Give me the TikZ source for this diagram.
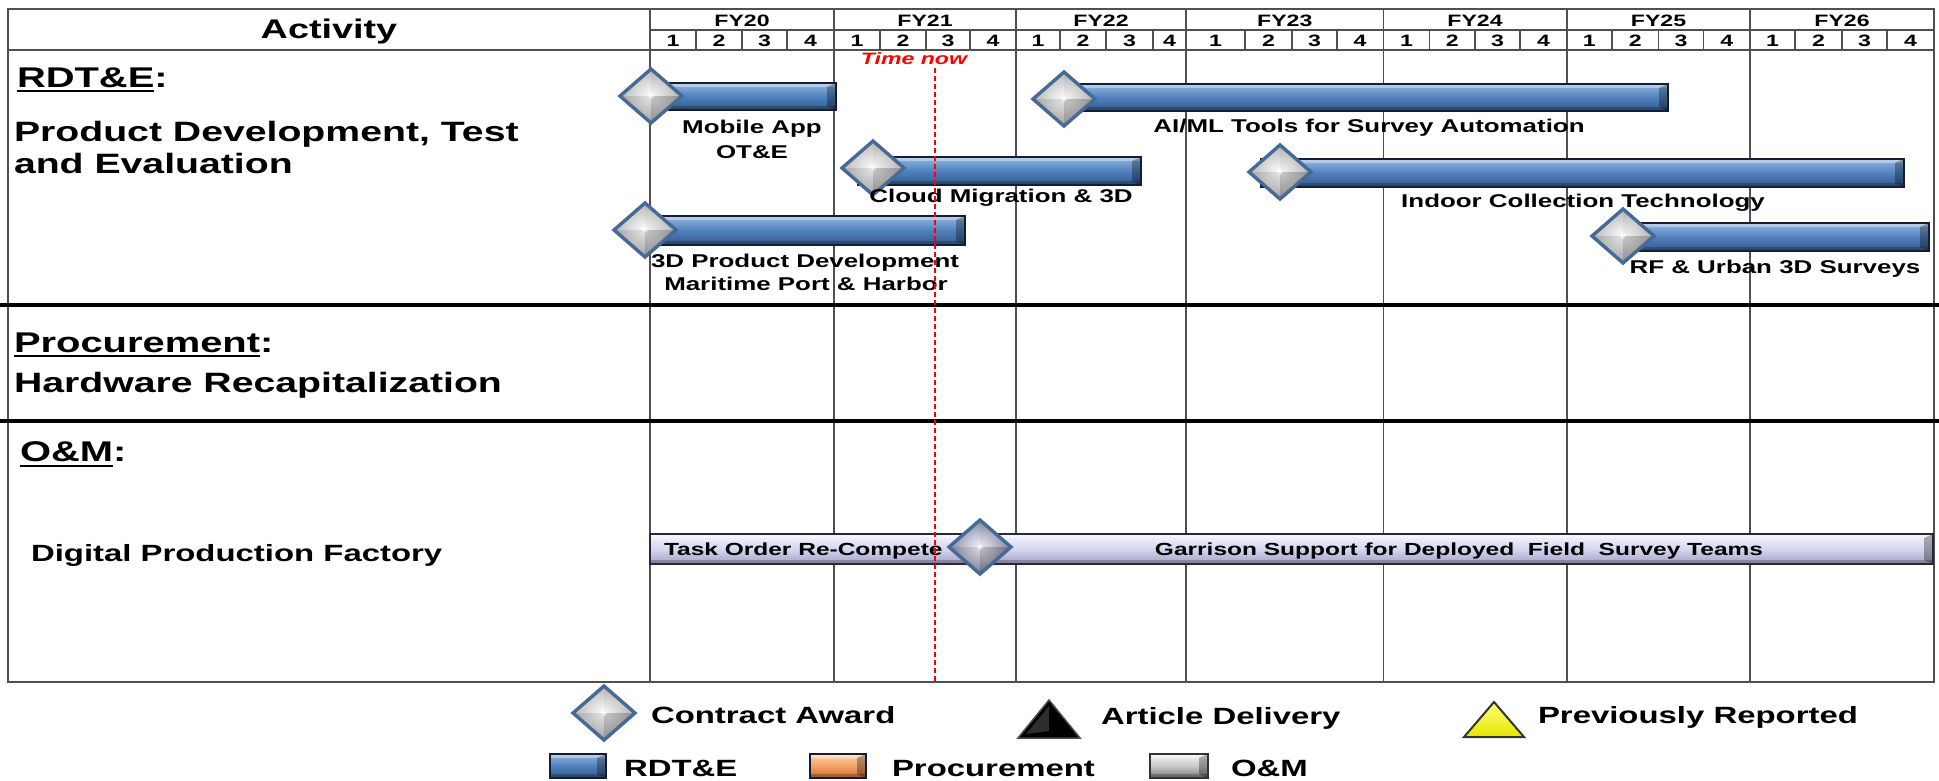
\documentclass[tikz,border=0pt]{standalone}
\usepackage{fontspec}
\setmainfont{Liberation Sans}[FakeStretch=1.4]
\usetikzlibrary{shapes.geometric,calc}
\definecolor{gridc}{RGB}{80,80,80}
\definecolor{barTop}{RGB}{150,182,222}
\definecolor{barMid}{RGB}{79,129,189}
\definecolor{barBot}{RGB}{50,88,138}
\definecolor{barEdge}{RGB}{20,30,50}
\definecolor{gemRim}{RGB}{70,105,150}
\definecolor{omTop}{RGB}{245,245,253}
\definecolor{omMid}{RGB}{214,214,240}
\definecolor{omBot}{RGB}{160,160,195}
\definecolor{omEdge}{RGB}{40,40,55}
\definecolor{orTop}{RGB}{252,214,180}
\definecolor{orMid}{RGB}{245,160,100}
\definecolor{orBot}{RGB}{200,110,50}
\definecolor{grTop}{RGB}{245,245,245}
\definecolor{grMid}{RGB}{200,200,200}
\definecolor{grBot}{RGB}{120,120,120}
\definecolor{nowred}{RGB}{255,0,0}
\definecolor{yelTop}{RGB}{255,255,120}
\definecolor{yelBot}{RGB}{230,230,0}
\begin{document}
\begin{tikzpicture}[x=1pt,y=-1pt,
 every node/.style={inner sep=0pt,outer sep=0pt},
 gridline/.style={draw=gridc,line width=1.6pt},
 sectline/.style={draw=black,line width=3.5pt},
 bevel/.style={path picture={
   \fill[white,opacity=.35] (path picture bounding box.north west) rectangle ([yshift=-4pt]path picture bounding box.north east);
   \fill[black,opacity=.22] (path picture bounding box.south west) rectangle ([yshift=4pt]path picture bounding box.south east);
   \fill[black,opacity=.3] ([xshift=-9pt,yshift=-4pt]path picture bounding box.north east) -- (path picture bounding box.north east) -- (path picture bounding box.south east) -- ([xshift=-9pt,yshift=4pt]path picture bounding box.south east) -- cycle;
 }},
 rdtbar/.style={draw=barEdge,line width=1.8pt,top color=barTop,bottom color=barBot,middle color=barMid,bevel},
 ombar/.style={draw=omEdge,line width=1.8pt,top color=omTop,bottom color=omBot,middle color=omMid,bevel},
 orbox/.style={draw=barEdge,line width=1.8pt,top color=orTop,bottom color=orBot,middle color=orMid,bevel},
 grbox/.style={draw=black!80,line width=1.8pt,top color=grTop,bottom color=grBot,middle color=grMid,bevel},
 gem/.style={diamond,minimum width=62pt,minimum height=54pt,draw=gemRim,line width=3.4pt,
   inner color=white,outer color=black!28,
   path picture={
     \fill[black,opacity=.03] (path picture bounding box.center) -- (path picture bounding box.north) -- (path picture bounding box.east) -- cycle;
     \fill[black,opacity=.22] (path picture bounding box.center) -- (path picture bounding box.east) -- (path picture bounding box.south) -- cycle;
     \fill[black,opacity=.10] (path picture bounding box.center) -- (path picture bounding box.south) -- (path picture bounding box.west) -- cycle;
     \fill[white,opacity=.6] ([xshift=-3pt]path picture bounding box.center) -- ([yshift=3pt]path picture bounding box.center) -- ([xshift=3pt]path picture bounding box.center) -- ([yshift=-3pt]path picture bounding box.center) -- cycle;
   }},
 omgem/.style={gem,inner color=omTop,outer color=omBot!85!black},
 hdr/.style={font=\fontsize{27}{30}\selectfont\bfseries,anchor=base},
 fylbl/.style={font=\fontsize{16.5}{18}\selectfont\bfseries,anchor=base},
 sec/.style={font=\fontsize{28.5}{31}\selectfont\bfseries,anchor=base west},
 sub/.style={font=\fontsize{28}{31}\selectfont\bfseries,anchor=base west},
 lbl/.style={font=\fontsize{18.5}{22}\selectfont\bfseries,anchor=base},
 omlbl/.style={font=\fontsize{17.5}{20}\selectfont\bfseries},
 leg/.style={font=\fontsize{23.5}{26}\selectfont\bfseries,anchor=base west},
 uline/.style={draw=black,line width=2pt},
 nowline/.style={draw=nowred,line width=1.4pt,dash pattern=on 5pt off 3pt}
]
\useasboundingbox[fill=white] (0,0) rectangle (1939,780);

% ---------- grid ----------
\draw[gridline] (8,9) rectangle (1934,682);
\draw[gridline] (8,50) -- (1934,50);
\draw[gridline] (650,30) -- (1934,30);
\foreach \x in {650,834,1016,1186,1383.5,1567,1750}
  \draw[gridline] (\x,9) -- (\x,682);
\foreach \x in {696,742,787,880,926,970,1060,1106,1153,1245,1292,1337,1429.6,1475.2,1520,1611.7,1658.6,1703.4,1795,1842,1887}
  \draw[gridline] (\x,30) -- (\x,50);
\draw[sectline] (0,305) -- (1939,305);
\draw[sectline] (0,421) -- (1939,421);

% ---------- header ----------
\node[hdr] (act) at (329,38) {Activity};
\foreach \x/\t [count=\i] in {742/FY20,925/FY21,1101/FY22,1284.75/FY23,1475/FY24,1658.5/FY25,1842/FY26}
  \node[fylbl] (fy\i) at (\x,26) {\t};
\foreach \x/\q [count=\i] in {673/1,719/2,764.5/3,810.5/4,857/1,903/2,948/3,993/4,1038/1,1083/2,1129.5/3,1169.5/4,1215.5/1,1268.5/2,1314.5/3,1360/4,1406.5/1,1452.4/2,1497.6/3,1543.5/4,1589.3/1,1635.2/2,1681/3,1726.7/4,1772.5/1,1818.5/2,1864.5/3,1910.5/4}
  \node[fylbl] (q\i) at (\x,46.5) {\q};

% ---------- left column ----------
\node[sec] (rdteH) at (17,87) {RDT\&E};
\node[sec] (rdteC) at (rdteH.base east) {:};
\draw[uline] ([yshift=-4pt]rdteH.base west) -- ([yshift=-4pt]rdteH.base east);
\node[sub] (pd1) at (14,141.5) {Product Development, Test};
\node[sub] (pd2) at (14,173) {and Evaluation};
\node[sec] (procH) at (14,352) {Procurement};
\node[sec] (procC) at (procH.base east) {:};
\draw[uline] ([yshift=-4pt]procH.base west) -- ([yshift=-4pt]procH.base east);
\node[sub] (hw) at (14,392.5) {Hardware Recapitalization};
\node[sec] (omH) at (20,461.5) {O\&M};
\node[sec] (omC) at (omH.base east) {:};
\draw[uline] ([yshift=-4pt]omH.base west) -- ([yshift=-4pt]omH.base east);
\node[font=\fontsize{23.5}{26}\selectfont\bfseries,anchor=base west] (dpf) at (31,561) {Digital Production Factory};

% ---------- RDT&E bars ----------
\path[rdtbar] (652,83) rectangle (836,110);
\path[rdtbar] (1064,84) rectangle (1668,111);
\path[rdtbar] (858,157) rectangle (1141,185);
\path[rdtbar] (1261,159) rectangle (1904,187);
\path[rdtbar] (645,216) rectangle (965,245);
\path[rdtbar] (1623,223) rectangle (1929,251);
\node[gem] (g1) at (651,96) {};
\node[gem] (g2) at (1064,99) {};
\node[gem] (g3) at (873,168) {};
\node[gem] (g4) at (1280,172) {};
\node[gem] (g5) at (645,230) {};
\node[gem] (g6) at (1623,236) {};

\node[lbl] (l1a) at (752,133) {Mobile App};
\node[lbl] (l1b) at (752,158) {OT\&E};
\node[lbl] (l2) at (1369,132) {AI/ML Tools for Survey Automation};
\node[lbl] (l3) at (1001,202) {Cloud Migration \& 3D};
\node[lbl] (l4) at (1583,207) {Indoor Collection Technology};
\node[lbl] (l5a) at (805,267) {3D Product Development};
\node[lbl] (l5b) at (806,290) {Maritime Port \& Harbor};
\node[lbl] (l6) at (1775,273) {RF \& Urban 3D Surveys};

% ---------- O&M bar ----------
\path[ombar] (650,534) rectangle (1933,564);
\node[omgem] (g7) at (980,547) {};
\node[omlbl,anchor=base west] (om1) at (664,555) {Task Order Re-Compete};
\node[omlbl,anchor=base] (om2) at (1459,555) {Garrison Support for Deployed~~Field~~Survey Teams};

% ---------- time now ----------
\node[font=\fontsize{16.5}{18}\selectfont\bfseries\itshape,text=nowred,anchor=base] (now) at (914,64) {Time now};
\coordinate (nowtop) at (935,68);
\coordinate (nowbot) at (935,682);
\draw[nowline] (nowtop) -- (nowbot);

% ---------- legend ----------
\node[gem] (lg) at (604,713) {};
\node[leg] (lgt) at (651,723) {Contract Award};
\filldraw[fill=black,draw=black!70,line width=1.5pt] (1049,700) -- (1080,738) -- (1018,738) -- cycle;
\fill[white,opacity=.18] (1049,706) -- (1049,731) -- (1026,734) -- cycle;
\node[leg] (lat) at (1101,724) {Article Delivery};
\path[draw=black!80,line width=2pt,top color=yelTop,bottom color=yelBot] (1494,702) -- (1524,737) -- (1464,737) -- cycle;
\node[leg] (lpt) at (1538,723) {Previously Reported};
\path[rdtbar] (550,754) rectangle (606,778);
\node[leg] (lrt) at (624,776) {RDT\&E};
\path[orbox] (810,754) rectangle (866,778);
\node[leg] (lpr) at (892,776) {Procurement};
\path[grbox] (1150,754) rectangle (1208,778);
\node[leg] (lom) at (1231,776) {O\&M};
\end{tikzpicture}
\end{document}
